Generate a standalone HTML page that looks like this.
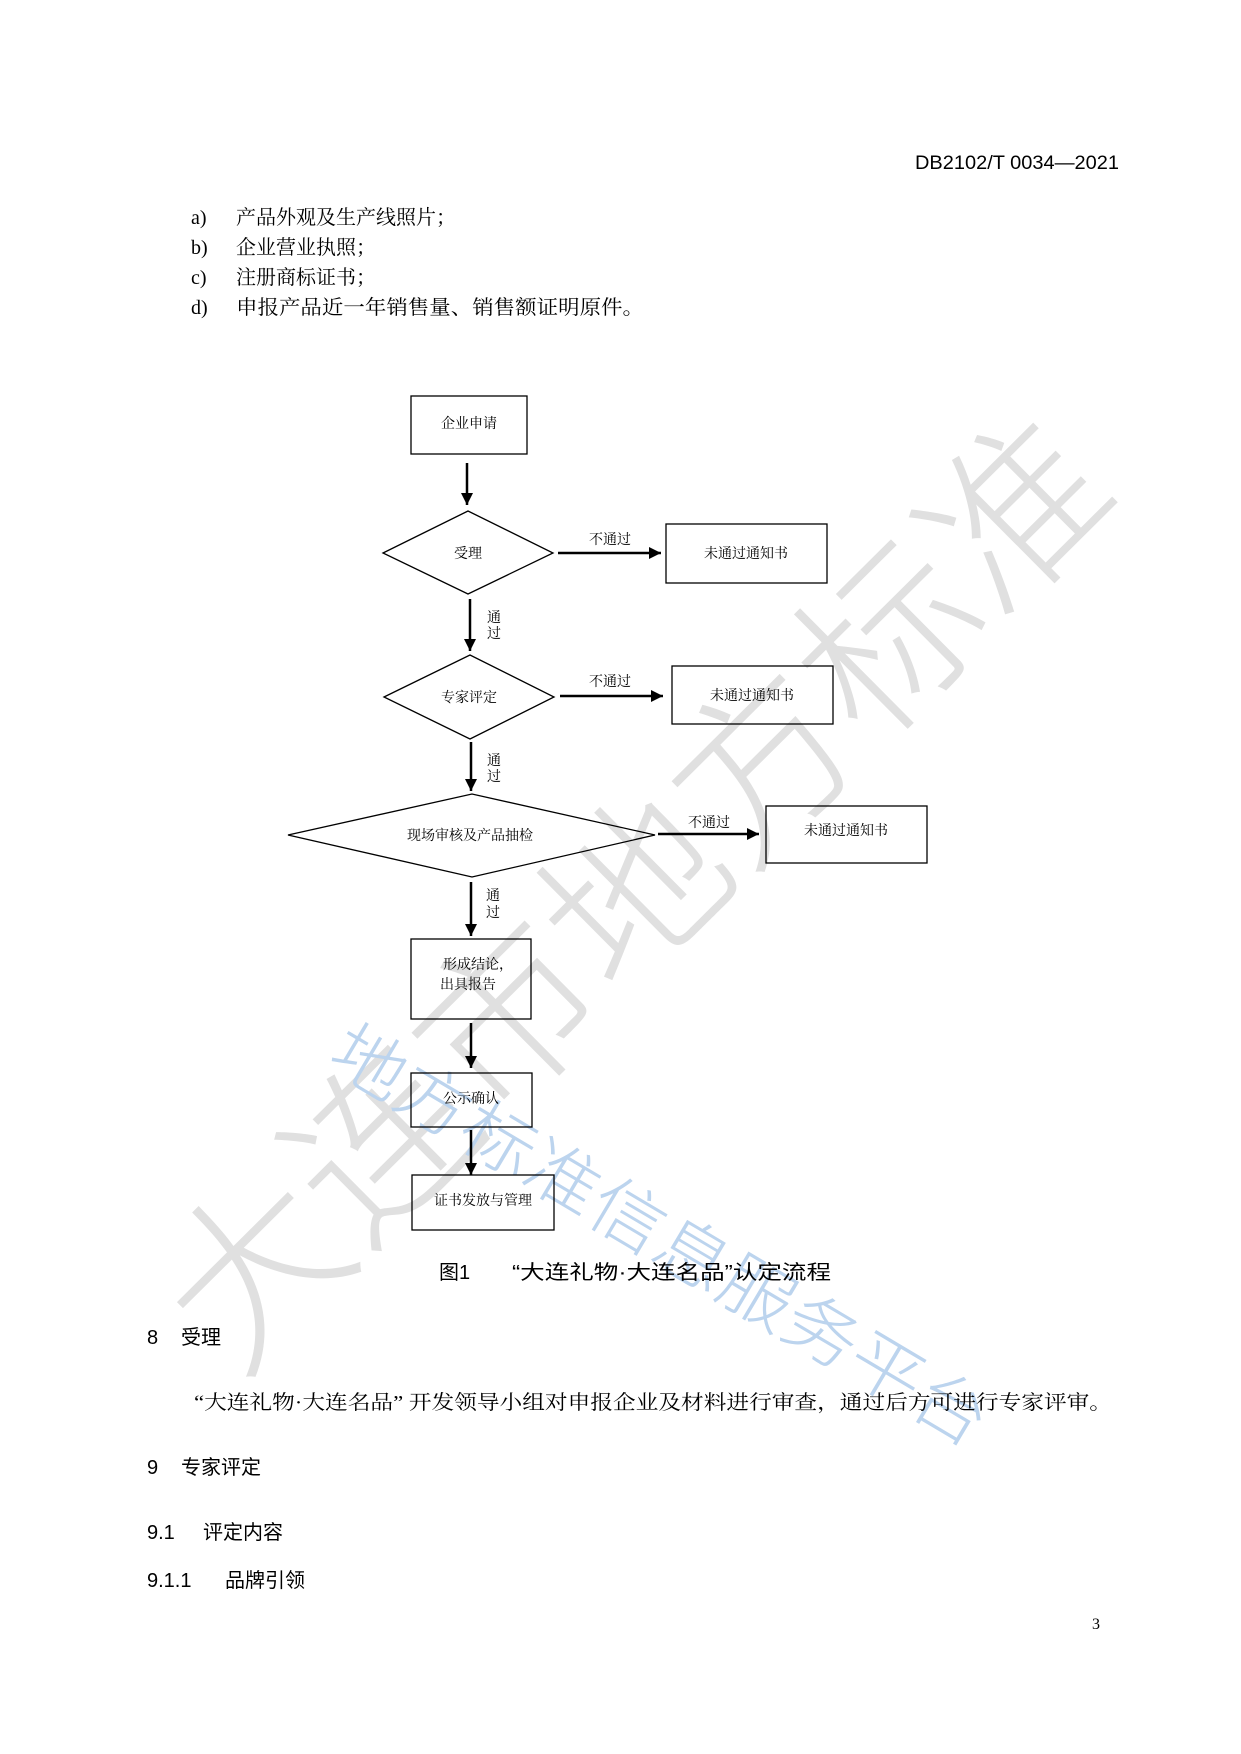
<!DOCTYPE html>
<html><head><meta charset="utf-8"><style>
html,body{margin:0;padding:0;background:#fff}
svg{display:block}
.s{font-family:"Liberation Serif","Noto Serif CJK SC",serif}
.h{font-family:"Liberation Sans","Noto Sans CJK SC",sans-serif}
</style></head><body>
<svg width="1241" height="1754" viewBox="0 0 1241 1754" xmlns="http://www.w3.org/2000/svg">
<defs><marker id="a" viewBox="0 0 10 10" refX="10" refY="5" markerWidth="12" markerHeight="12" orient="auto" markerUnits="userSpaceOnUse"><path d="M0,0 L10,5 L0,10z" fill="#000"/></marker></defs>
<!-- watermarks -->
<g transform="translate(637,893) rotate(-44.8)">
<text class="h" x="0" y="0" text-anchor="middle" dominant-baseline="central" font-size="178" font-weight="300" fill="#e0e0e0" textLength="1253" lengthAdjust="spacingAndGlyphs">大连市地方标准</text></g>
<g transform="translate(660,1236) rotate(30.7)">
<text class="h" x="0" y="0" text-anchor="middle" dominant-baseline="central" font-size="70" font-weight="300" fill="#bcd4ee" textLength="752" lengthAdjust="spacingAndGlyphs">地方标准信息服务平台</text></g>

<text class="h" x="915" y="169" font-size="19" textLength="204" lengthAdjust="spacingAndGlyphs">DB2102/T 0034—2021</text>
<g class="s" font-size="20">
<text x="191" y="224">a)</text><text x="236" y="224">产品外观及生产线照片；</text>
<text x="191" y="254">b)</text><text x="236" y="254">企业营业执照；</text>
<text x="191" y="284">c)</text><text x="236" y="284">注册商标证书；</text>
<text x="191" y="314">d)</text><text x="236" y="314" textLength="408" lengthAdjust="spacingAndGlyphs">申报产品近一年销售量、销售额证明原件。</text>
</g>

<g fill="none" stroke="#000" stroke-width="1.3">
<rect x="411" y="396" width="116" height="58"/>
<polygon points="383,553 468,511 553,553 468,594"/>
<rect x="666" y="524" width="161" height="59"/>
<polygon points="384,697 470,655 554,697 470,739"/>
<rect x="672" y="666" width="161" height="58"/>
<polygon points="288,835 472,794 655,835 472,877"/>
<rect x="766" y="806" width="161" height="57"/>
<rect x="411" y="939" width="120" height="80"/>
<rect x="411" y="1073" width="121" height="54"/>
<rect x="412" y="1175" width="142" height="55"/>
</g>
<g stroke="#000" stroke-width="2.5" marker-end="url(#a)">
<line x1="467" y1="463" x2="467" y2="505"/>
<line x1="470" y1="599" x2="470" y2="651"/>
<line x1="471" y1="742" x2="471" y2="791"/>
<line x1="471" y1="882" x2="471" y2="936"/>
<line x1="471" y1="1023" x2="471" y2="1068"/>
<line x1="471" y1="1130" x2="471" y2="1175"/>
<line x1="558" y1="553" x2="661" y2="553"/>
<line x1="560" y1="696" x2="663" y2="696"/>
<line x1="658" y1="834" x2="759" y2="834"/>
</g>
<g class="s" font-size="14" fill="#000">
<text x="469" y="428" text-anchor="middle">企业申请</text>
<text x="468" y="558" text-anchor="middle">受理</text>
<text x="610" y="544" text-anchor="middle">不通过</text>
<text x="746" y="558" text-anchor="middle">未通过通知书</text>
<text x="494" y="622" text-anchor="middle">通</text><text x="494" y="638" text-anchor="middle">过</text>
<text x="469" y="702" text-anchor="middle">专家评定</text>
<text x="610" y="686" text-anchor="middle">不通过</text>
<text x="752" y="700" text-anchor="middle">未通过通知书</text>
<text x="494" y="765" text-anchor="middle">通</text><text x="494" y="781" text-anchor="middle">过</text>
<text x="470" y="840" text-anchor="middle">现场审核及产品抽检</text>
<text x="709" y="827" text-anchor="middle">不通过</text>
<text x="846" y="835" text-anchor="middle">未通过通知书</text>
<text x="493" y="900" text-anchor="middle">通</text><text x="493" y="917" text-anchor="middle">过</text>
<text x="443" y="969">形成结论，</text>
<text x="440" y="989">出具报告</text>
<text x="471" y="1103" text-anchor="middle">公示确认</text>
<text x="483" y="1205" text-anchor="middle">证书发放与管理</text>
</g>
<text class="h" x="439" y="1279" font-size="20">图1</text>
<text class="h" x="512" y="1279" font-size="20" textLength="319" lengthAdjust="spacingAndGlyphs">“大连礼物·大连名品”认定流程</text>

<g class="h" font-size="20">
<text x="147" y="1344">8</text><text x="181" y="1344">受理</text>
<text x="147" y="1474">9</text><text x="181" y="1474">专家评定</text>
<text x="147" y="1539">9.1</text><text x="203" y="1539">评定内容</text>
<text x="147" y="1587">9.1.1</text><text x="225" y="1587">品牌引领</text>
</g>
<text class="s" x="194" y="1409" font-size="20" textLength="918" lengthAdjust="spacingAndGlyphs">“大连礼物·大连名品” 开发领导小组对申报企业及材料进行审查，通过后方可进行专家评审。</text>
<text class="s" x="1092" y="1629" font-size="16">3</text>
</svg>
</body></html>
